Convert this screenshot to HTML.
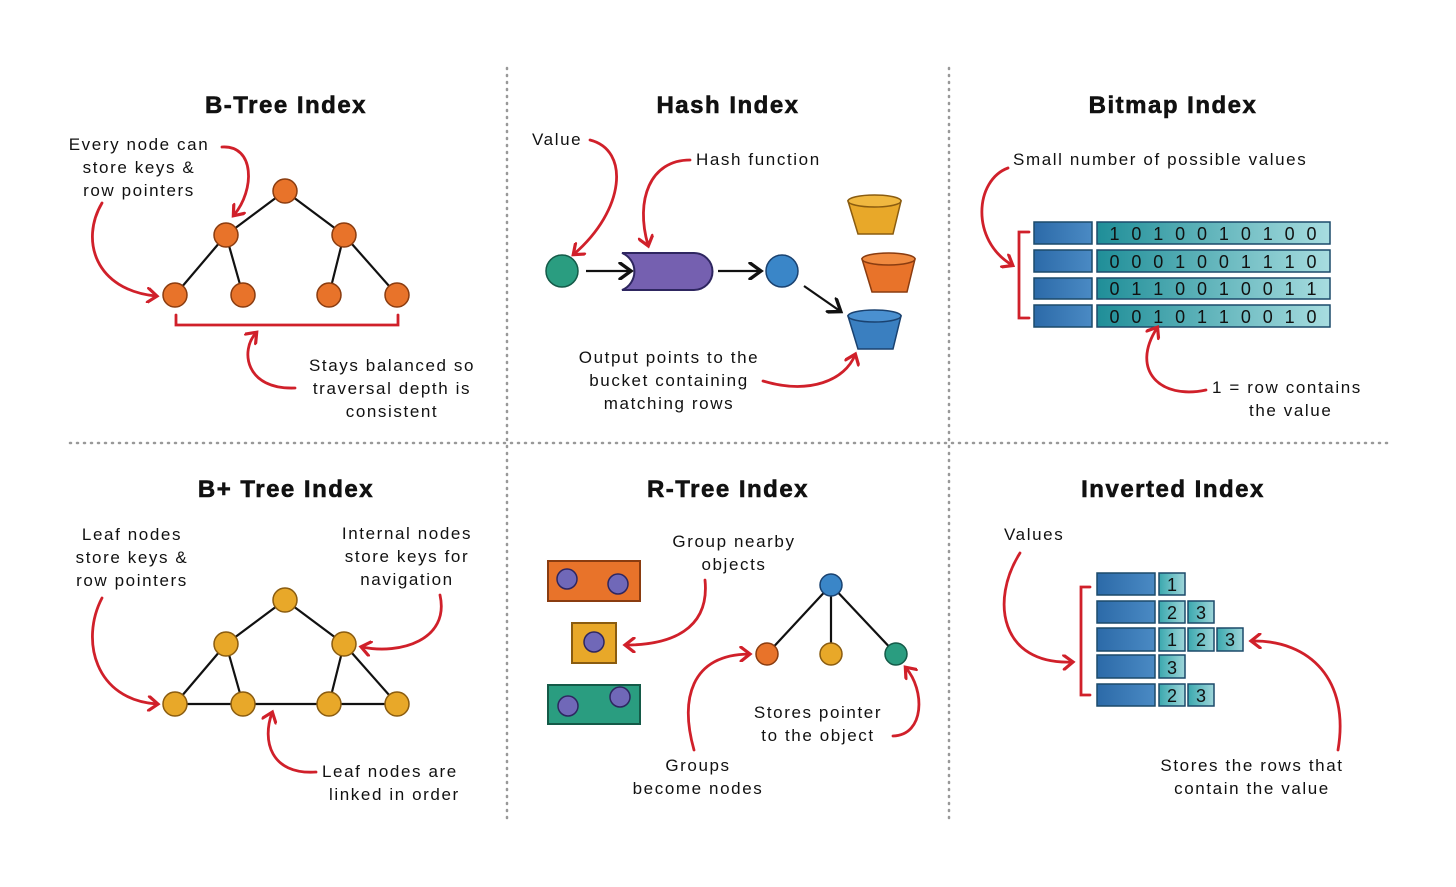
<!DOCTYPE html>
<html><head><meta charset="utf-8">
<style>
html,body{margin:0;padding:0;background:#fff;}
svg{display:block;}
.t{font-family:"Liberation Sans",sans-serif;font-weight:bold;font-size:24px;letter-spacing:1.5px;fill:#111;text-anchor:middle;stroke:#111;stroke-width:0.6;}
.l{font-family:"Liberation Sans",sans-serif;font-size:17px;letter-spacing:1.6px;fill:#111;}
.m{text-anchor:middle;}
.b{font-family:"Liberation Sans",sans-serif;font-size:18px;fill:#111;text-anchor:middle;}
.r{fill:none;stroke:#d0202a;stroke-width:2.8;stroke-linecap:round;}
.k{stroke:#111;stroke-width:2.2;}
</style></head>
<body>
<svg width="1456" height="887" viewBox="0 0 1456 887" xmlns="http://www.w3.org/2000/svg">
<defs>
<marker id="ra" markerWidth="16" markerHeight="16" refX="10" refY="8" orient="auto" markerUnits="userSpaceOnUse"><path d="M2,1 L11,8 L2,15" fill="none" stroke="#d0202a" stroke-width="3.2" stroke-linecap="round"/></marker>
<marker id="ka" markerWidth="16" markerHeight="18" refX="12" refY="9" orient="auto" markerUnits="userSpaceOnUse"><path d="M2,1 L13,9 L2,17" fill="none" stroke="#111" stroke-width="3.4" stroke-linecap="round"/></marker>
<linearGradient id="bl" x1="0" x2="1"><stop offset="0" stop-color="#2c6aa8"/><stop offset="1" stop-color="#4a8ac4"/></linearGradient>
<linearGradient id="tl" x1="0" x2="1"><stop offset="0" stop-color="#1f8e98"/><stop offset="1" stop-color="#a8dde0"/></linearGradient>
<linearGradient id="tc" x1="0" x2="1"><stop offset="0" stop-color="#3aa8ae"/><stop offset="1" stop-color="#9fd6da"/></linearGradient>
</defs>

<g stroke="#999" stroke-width="2.5" stroke-dasharray="1 6" stroke-linecap="round">
<line x1="507" y1="68" x2="507" y2="820"/>
<line x1="949" y1="68" x2="949" y2="820"/>
<line x1="70" y1="443" x2="1390" y2="443"/>
</g>

<text class="t" x="286" y="113">B-Tree Index</text>
<text class="t" x="728" y="113">Hash Index</text>
<text class="t" x="1173" y="113">Bitmap Index</text>
<text class="t" x="286" y="497">B+ Tree Index</text>
<text class="t" x="728" y="497">R-Tree Index</text>
<text class="t" x="1173" y="497">Inverted Index</text>

<!-- B-Tree -->
<g class="k"><line x1="285" y1="191" x2="226" y2="235"/><line x1="285" y1="191" x2="344" y2="235"/>
<line x1="226" y1="235" x2="175" y2="295"/><line x1="226" y1="235" x2="243" y2="295"/>
<line x1="344" y1="235" x2="329" y2="295"/><line x1="344" y1="235" x2="397" y2="295"/></g>
<g fill="#e8732a" stroke="#8a3c10" stroke-width="1.5">
<circle cx="285" cy="191" r="12"/><circle cx="226" cy="235" r="12"/><circle cx="344" cy="235" r="12"/>
<circle cx="175" cy="295" r="12"/><circle cx="243" cy="295" r="12"/><circle cx="329" cy="295" r="12"/><circle cx="397" cy="295" r="12"/></g>
<path class="r" d="M176,315 V325 H398 V315"/>
<text class="l m" x="139" y="150">Every node can</text>
<text class="l m" x="139" y="173">store keys &amp;</text>
<text class="l m" x="139" y="196">row pointers</text>
<path class="r" marker-end="url(#ra)" d="M222,147 C255,145 255,190 234,215"/>
<path class="r" marker-end="url(#ra)" d="M102,203 C80,240 95,290 156,296"/>
<text class="l m" x="392" y="371">Stays balanced so</text>
<text class="l m" x="392" y="394">traversal depth is</text>
<text class="l m" x="392" y="417">consistent</text>
<path class="r" marker-end="url(#ra)" d="M295,388 C245,390 240,350 256,333"/>

<!-- Hash -->
<text class="l" x="532" y="145">Value</text>
<path class="r" marker-end="url(#ra)" d="M590,140 C630,150 625,210 574,254"/>
<text class="l" x="696" y="165">Hash function</text>
<path class="r" marker-end="url(#ra)" d="M690,160 C650,160 635,200 648,245"/>
<circle cx="562" cy="271" r="16" fill="#2a9d80" stroke="#145a48" stroke-width="1.5"/>
<line class="k" x1="586" y1="271" x2="630" y2="271" stroke-width="3" marker-end="url(#ka)"/>
<path d="M622,253 H694 A18,18 0 0 1 694,290 H622 A20,20 0 0 0 622,253 Z" fill="#7560b0" stroke="#2e2660" stroke-width="2"/>
<line class="k" x1="718" y1="271" x2="760" y2="271" stroke-width="3" marker-end="url(#ka)"/>
<circle cx="782" cy="271" r="16" fill="#3a86c8" stroke="#1a4270" stroke-width="1.5"/>
<line class="k" x1="804" y1="286" x2="840" y2="311" stroke-width="3" marker-end="url(#ka)"/>
<g stroke-width="1.5">
<path d="M848,201 L858,234 H893 L901,201 Z" fill="#e8a829" stroke="#8a5c10"/><ellipse cx="874.5" cy="201" rx="26.5" ry="6" fill="#f0b840" stroke="#8a5c10"/>
<path d="M862,259 L872,292 H907 L915,259 Z" fill="#e8732a" stroke="#8a3c10"/><ellipse cx="888.5" cy="259" rx="26.5" ry="6" fill="#f08a40" stroke="#8a3c10"/>
<path d="M848,316 L858,349 H893 L901,316 Z" fill="#3a7fc0" stroke="#1a4270"/><ellipse cx="874.5" cy="316" rx="26.5" ry="6" fill="#4a90d0" stroke="#1a4270"/>
</g>
<text class="l m" x="669" y="363">Output points to the</text>
<text class="l m" x="669" y="386">bucket containing</text>
<text class="l m" x="669" y="409">matching rows</text>
<path class="r" marker-end="url(#ra)" d="M763,381 C810,395 845,380 855,355"/>

<!-- Bitmap -->
<text class="l" x="1013" y="165">Small number of possible values</text>
<path class="r" marker-end="url(#ra)" d="M1008,168 C975,180 970,240 1012,265"/>
<path class="r" d="M1029,232 H1019 V318 H1029"/>
<g stroke="#1c4a6a" stroke-width="1.5">
<rect x="1034" y="222" width="58" height="22" fill="url(#bl)"/><rect x="1097" y="222" width="233" height="22" fill="url(#tl)"/>
<rect x="1034" y="250" width="58" height="22" fill="url(#bl)"/><rect x="1097" y="250" width="233" height="22" fill="url(#tl)"/>
<rect x="1034" y="278" width="58" height="21" fill="url(#bl)"/><rect x="1097" y="278" width="233" height="21" fill="url(#tl)"/>
<rect x="1034" y="305" width="58" height="22" fill="url(#bl)"/><rect x="1097" y="305" width="233" height="22" fill="url(#tl)"/>
</g>
<g class="b">
<text x="1213" y="240" textLength="207" lengthAdjust="spacing">1 0 1 0 0 1 0 1 0 0</text>
<text x="1213" y="268" textLength="207" lengthAdjust="spacing">0 0 0 1 0 0 1 1 1 0</text>
<text x="1213" y="295" textLength="207" lengthAdjust="spacing">0 1 1 0 0 1 0 0 1 1</text>
<text x="1213" y="323" textLength="207" lengthAdjust="spacing">0 0 1 0 1 1 0 0 1 0</text>
</g>
<text class="l" x="1212" y="393">1 = row contains</text>
<text class="l" x="1249" y="416">the value</text>
<path class="r" marker-end="url(#ra)" d="M1206,390 C1160,400 1130,370 1157,328"/>

<!-- B+ Tree -->
<g class="k"><line x1="285" y1="600" x2="226" y2="644"/><line x1="285" y1="600" x2="344" y2="644"/>
<line x1="226" y1="644" x2="175" y2="704"/><line x1="226" y1="644" x2="243" y2="704"/>
<line x1="344" y1="644" x2="329" y2="704"/><line x1="344" y1="644" x2="397" y2="704"/>
<line x1="175" y1="704" x2="397" y2="704"/></g>
<g fill="#e8a829" stroke="#8a5c10" stroke-width="1.5">
<circle cx="285" cy="600" r="12"/><circle cx="226" cy="644" r="12"/><circle cx="344" cy="644" r="12"/>
<circle cx="175" cy="704" r="12"/><circle cx="243" cy="704" r="12"/><circle cx="329" cy="704" r="12"/><circle cx="397" cy="704" r="12"/></g>
<text class="l m" x="132" y="540">Leaf nodes</text>
<text class="l m" x="132" y="563">store keys &amp;</text>
<text class="l m" x="132" y="586">row pointers</text>
<path class="r" marker-end="url(#ra)" d="M102,598 C80,640 95,700 157,704"/>
<text class="l m" x="407" y="539">Internal nodes</text>
<text class="l m" x="407" y="562">store keys for</text>
<text class="l m" x="407" y="585">navigation</text>
<path class="r" marker-end="url(#ra)" d="M440,595 C450,640 400,655 362,647"/>
<text class="l" x="322" y="777">Leaf nodes are</text>
<text class="l" x="329" y="800">linked in order</text>
<path class="r" marker-end="url(#ra)" d="M316,772 C270,775 262,740 272,713"/>

<!-- R-Tree -->
<rect x="548" y="561" width="92" height="40" fill="#e8732a" stroke="#8a3c10" stroke-width="2"/>
<rect x="572" y="623" width="44" height="40" fill="#e8a829" stroke="#8a5c10" stroke-width="2"/>
<rect x="548" y="685" width="92" height="39" fill="#2a9d80" stroke="#145a48" stroke-width="2"/>
<g fill="#7068b8" stroke="#2e2660" stroke-width="1.5">
<circle cx="567" cy="579" r="10"/><circle cx="618" cy="584" r="10"/><circle cx="594" cy="642" r="10"/>
<circle cx="568" cy="706" r="10"/><circle cx="620" cy="697" r="10"/></g>
<g class="k"><line x1="831" y1="585" x2="767" y2="654"/><line x1="831" y1="585" x2="831" y2="654"/><line x1="831" y1="585" x2="896" y2="654"/></g>
<circle cx="831" cy="585" r="11" fill="#3a86c8" stroke="#1a4270" stroke-width="1.5"/>
<circle cx="767" cy="654" r="11" fill="#e8732a" stroke="#8a3c10" stroke-width="1.5"/>
<circle cx="831" cy="654" r="11" fill="#e8a829" stroke="#8a5c10" stroke-width="1.5"/>
<circle cx="896" cy="654" r="11" fill="#2a9d80" stroke="#145a48" stroke-width="1.5"/>
<text class="l m" x="734" y="547">Group nearby</text>
<text class="l m" x="734" y="570">objects</text>
<path class="r" marker-end="url(#ra)" d="M705,580 C710,630 670,645 626,645"/>
<text class="l m" x="818" y="718">Stores pointer</text>
<text class="l m" x="818" y="741">to the object</text>
<path class="r" marker-end="url(#ra)" d="M893,736 C925,735 925,690 906,668"/>
<text class="l m" x="698" y="771">Groups</text>
<text class="l m" x="698" y="794">become nodes</text>
<path class="r" marker-end="url(#ra)" d="M694,750 C680,700 690,655 749,654"/>

<!-- Inverted -->
<text class="l" x="1004" y="540">Values</text>
<path class="r" marker-end="url(#ra)" d="M1020,553 C990,600 1000,665 1072,662"/>
<path class="r" d="M1090,587 H1081 V695 H1090"/>
<g stroke="#1c4a6a" stroke-width="1.5">
<rect x="1097" y="573" width="58" height="22" fill="url(#bl)"/>
<rect x="1097" y="601" width="58" height="22" fill="url(#bl)"/>
<rect x="1097" y="628" width="58" height="23" fill="url(#bl)"/>
<rect x="1097" y="655" width="58" height="23" fill="url(#bl)"/>
<rect x="1097" y="684" width="58" height="22" fill="url(#bl)"/>
<g fill="url(#tc)">
<rect x="1159" y="573" width="26" height="22"/>
<rect x="1159" y="601" width="26" height="22"/><rect x="1188" y="601" width="26" height="22"/>
<rect x="1159" y="628" width="26" height="23"/><rect x="1188" y="628" width="26" height="23"/><rect x="1217" y="628" width="26" height="23"/>
<rect x="1159" y="655" width="26" height="23"/>
<rect x="1159" y="684" width="26" height="22"/><rect x="1188" y="684" width="26" height="22"/>
</g></g>
<g class="b">
<text x="1172" y="591">1</text>
<text x="1172" y="619">2</text><text x="1201" y="619">3</text>
<text x="1172" y="646">1</text><text x="1201" y="646">2</text><text x="1230" y="646">3</text>
<text x="1172" y="674">3</text>
<text x="1172" y="702">2</text><text x="1201" y="702">3</text>
</g>
<path class="r" marker-end="url(#ra)" d="M1338,750 C1350,680 1310,640 1252,641"/>
<text class="l m" x="1252" y="771">Stores the rows that</text>
<text class="l m" x="1252" y="794">contain the value</text>
</svg>
</body></html>
